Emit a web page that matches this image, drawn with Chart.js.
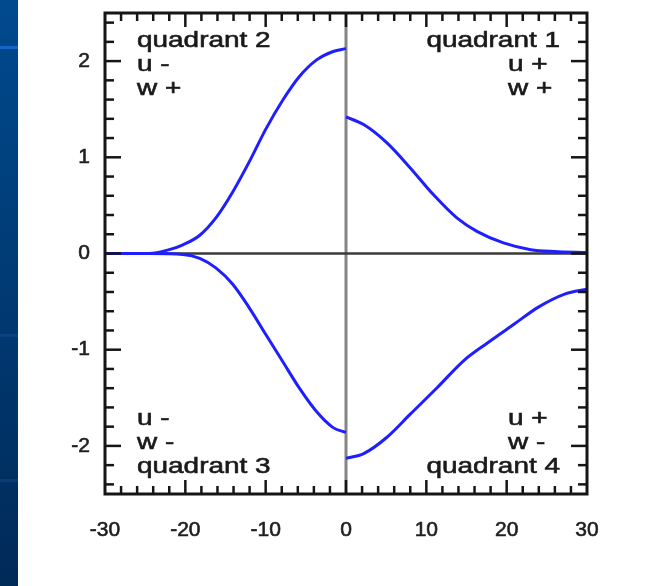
<!DOCTYPE html>
<html>
<head>
<meta charset="utf-8">
<script src="https://cdn.jsdelivr.net/npm/chart.js@4/dist/chart.umd.min.js"></script>
<style>
  html, body { margin: 0; background: #fff; }
  #wrap { position: relative; width: 654px; height: 586px; }
  #band { position: absolute; left: 0; top: 0; width: 18px; height: 586px;
          background: linear-gradient(#004a8e, #002a58); }
  #band i { position: absolute; left: 0; width: 18px; height: 3px; }
  #chart { position: absolute; left: 0; top: 0; }
</style>
</head>
<body>
<div id="wrap">
  <div id="band">
    <i style="top:46px;background:#1466c6"></i>
    <i style="top:334px;background:#0c4282"></i>
    <i style="top:479px;background:#0c3c76"></i>
  </div>
  <canvas id="chart" width="654" height="586"></canvas>
</div>

<script>
// ── Données ───────────────────────────────────────────────────────────
// quadrant 2 : u -, w +
const q2X = [-30, -26, -24.5, -22, -20.3, -18.2, -16.2, -14.1, -12, -10, -7.9, -5.8, -3.7, -1.6, 0]
const q2Y = [0, 0, 0, 0.04, 0.09, 0.19, 0.37, 0.64, 0.96, 1.29, 1.59, 1.84, 2.01, 2.10, 2.13]

// quadrant 1 : u +, w +
const q1X = [0, 2.2, 5.1, 8.0, 10.9, 13.8, 16.3, 19.6, 23.0, 25.9, 30]
const q1Y = [1.42, 1.34, 1.15, 0.89, 0.61, 0.37, 0.23, 0.11, 0.04, 0.02, 0.01]

// quadrant 3 : u -, w -
const q3X = [-30, -24.5, -20.3, -18.2, -16.2, -14.1, -12, -10, -7.9, -5.8, -3.7, -1.6, 0]
const q3Y = [0, 0, -0.01, -0.05, -0.15, -0.32, -0.57, -0.84, -1.12, -1.40, -1.64, -1.81, -1.86]

// quadrant 4 : u +, w -
const q4X = [0, 2.2, 5.1, 8.0, 11.4, 14.7, 17.6, 21.0, 23.9, 27.3, 30]
const q4Y = [-2.13, -2.08, -1.91, -1.67, -1.39, -1.11, -0.93, -0.73, -0.56, -0.42, -0.37]

const xRange = [-30, 30]
const yRange = [-2.5, 2.5]
const xTicks = [-30, -20, -10, 0, 10, 20, 30]
const yTicks = [-2, -1, 0, 1, 2]

const labelsQ1 = ['quadrant 1', 'u +', 'w +']
const labelsQ2 = ['quadrant 2', 'u -', 'w +']
const labelsQ3 = ['u -', 'w -', 'quadrant 3']
const labelsQ4 = ['u +', 'w -', 'quadrant 4']

const pts = (xs, ys) => xs.map((x, i) => ({ x, y: ys[i] }))

// ── Cadre, axes zéro, graduations et textes ──────────────────────────
const FAMILY    = '"Liberation Sans", Arial, sans-serif'
const TEXT_FONT = '22px ' + FAMILY
const STRETCH   = 1.27

function seg(ctx, x1, y1, x2, y2) {
    ctx.beginPath()
    ctx.moveTo(x1, y1)
    ctx.lineTo(x2, y2)
    ctx.stroke()
}

function label(ctx, text, px, py, align) {
    ctx.save()
    ctx.translate(px, py)
    ctx.scale(STRETCH, 1)
    ctx.textAlign = align
    ctx.fillText(text, 0, 0)
    ctx.strokeText(text, 0, 0)
    ctx.restore()
}

const framePlugin = {
    id: 'frame',
    beforeDatasetsDraw(chart) {
        const { ctx, chartArea: a, scales: { x, y } } = chart
        ctx.save()
        ctx.lineWidth = 3
        ctx.strokeStyle = '#858585'
        const x0 = x.getPixelForValue(0)
        seg(ctx, x0, a.top, x0, a.bottom)
        ctx.lineWidth = 2.5
        ctx.strokeStyle = '#3a3a3a'
        const y0 = y.getPixelForValue(0)
        seg(ctx, a.left, y0, a.right, y0)
        ctx.restore()
    },
    afterDatasetsDraw(chart) {
        const { ctx, chartArea: a, scales: { x, y } } = chart
        ctx.save()
        ctx.strokeStyle = '#151515'
        ctx.lineWidth = 2.5

        // graduations x tous les 2, majeures tous les 10
        for (let i = -14; i <= 14; i++) {
            const px = x.getPixelForValue(i * 2)
            const len = i % 5 === 0 ? 14 : 8
            seg(ctx, px, a.bottom, px, a.bottom - len)
            seg(ctx, px, a.top, px, a.top + len)
        }
        // graduations y tous les 0.2, majeures tous les 1
        for (let j = -12; j <= 12; j++) {
            const py = y.getPixelForValue(j / 5)
            const len = j % 5 === 0 ? 16 : 9
            seg(ctx, a.left, py, a.left + len, py)
            seg(ctx, a.right, py, a.right - len, py)
        }

        ctx.lineWidth = 3
        ctx.strokeRect(a.left, a.top, a.right - a.left, a.bottom - a.top)
        ctx.restore()
    },
    afterDraw(chart) {
        const { ctx, chartArea: a } = chart
        ctx.save()
        ctx.font = TEXT_FONT
        ctx.fillStyle = '#1a1a1a'
        ctx.strokeStyle = '#1a1a1a'
        ctx.lineWidth = 0.6
        ctx.textBaseline = 'alphabetic'

        const l = a.left + 32, r = a.right - 27, rl = a.right - 79
        const t = [a.top + 34, a.top + 58, a.top + 82]
        const b = [a.bottom - 69, a.bottom - 45, a.bottom - 21]

        label(ctx, labelsQ2[0], l, t[0], 'left')
        label(ctx, labelsQ2[1], l, t[1], 'left')
        label(ctx, labelsQ2[2], l, t[2], 'left')

        label(ctx, labelsQ1[0], r, t[0], 'right')
        label(ctx, labelsQ1[1], rl, t[1], 'left')
        label(ctx, labelsQ1[2], rl, t[2], 'left')

        label(ctx, labelsQ3[0], l, b[0], 'left')
        label(ctx, labelsQ3[1], l, b[1], 'left')
        label(ctx, labelsQ3[2], l, b[2], 'left')

        label(ctx, labelsQ4[0], rl, b[0], 'left')
        label(ctx, labelsQ4[1], rl, b[1], 'left')
        label(ctx, labelsQ4[2], r, b[2], 'right')
        ctx.restore()
    }
}

// ── Graphique ─────────────────────────────────────────────────────────
const curve = (data) => ({
    data,
    borderColor: '#1e1eff',
    borderWidth: 3,
    pointRadius: 0,
    fill: false,
    cubicInterpolationMode: 'monotone',
})

const tick = {
    color: '#1e1e1e',
    font: { size: 21, family: FAMILY },
    textStrokeColor: '#1e1e1e',
    textStrokeWidth: 0.6,
}

new Chart(document.getElementById('chart'), {
    type: 'line',
    data: {
        datasets: [
            curve(pts(q2X, q2Y)),
            curve(pts(q1X, q1Y)),
            curve(pts(q3X, q3Y)),
            curve(pts(q4X, q4Y)),
        ]
    },
    options: {
        responsive: false,
        animation: false,
        events: [],
        layout: { padding: { top: 13, right: 67, bottom: 0, left: 0 } },
        plugins: { legend: { display: false }, tooltip: { enabled: false } },
        scales: {
            x: {
                type: 'linear',
                min: xRange[0], max: xRange[1],
                ticks: { ...tick, padding: 24, maxRotation: 0 },
                afterBuildTicks: s => { s.ticks = xTicks.map(value => ({ value })) },
                grid: { display: false, drawTicks: false },
                border: { display: false },
                afterFit: s => { s.height = 92; s.paddingLeft = 0; s.paddingRight = 0 },
            },
            y: {
                min: yRange[0], max: yRange[1],
                ticks: { ...tick, padding: 15 },
                afterBuildTicks: s => { s.ticks = yTicks.map(value => ({ value })) },
                grid: { display: false, drawTicks: false },
                border: { display: false },
                afterFit: s => { s.width = 105; s.paddingTop = 0; s.paddingBottom = 0 },
            }
        }
    },
    plugins: [framePlugin]
})
</script>
</body>
</html>
